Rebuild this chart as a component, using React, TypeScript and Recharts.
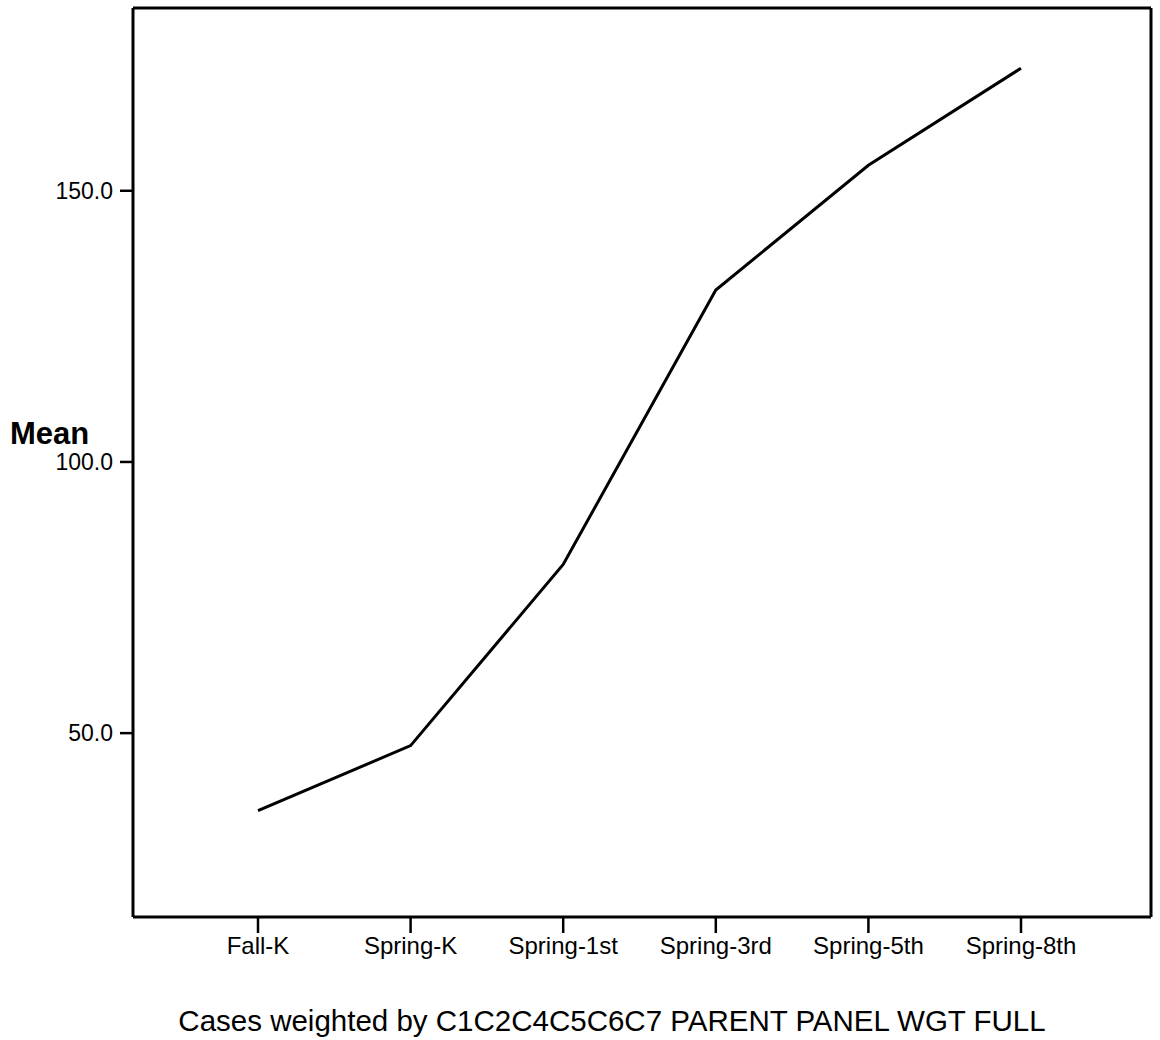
import { LineChart, Line, XAxis, YAxis } from 'recharts';

const waves = ['Fall-K', 'Spring-K', 'Spring-1st', 'Spring-3rd', 'Spring-5th', 'Spring-8th'];
const means = [35.7, 47.7, 81.1, 131.7, 154.7, 172.6];
const yTicks = [50, 100, 150];

const data = waves.map((wave, i) => ({ wave, mean: means[i] }));

const FONT = '"Liberation Sans", Arial, sans-serif';

const MeanLabel = () => (
  <text x={10} y={444} fontFamily={FONT} fontSize={31} fontWeight="bold" fill="#000">
    Mean
  </text>
);

const FooterLabel = () => (
  <text x={612} y={1031} textAnchor="middle" fontFamily={FONT} fontSize={29.5} fill="#000">
    Cases weighted by C1C2C4C5C6C7 PARENT PANEL WGT FULL
  </text>
);

export default function App() {
  const axisLine = { stroke: '#000', strokeWidth: 3 };
  const tickLine = { stroke: '#000', strokeWidth: 2.5 };
  return (
    <div style={{ position: 'absolute', left: 0, top: 0, width: 1160, height: 1040, background: '#fff' }}>
      <LineChart width={1160} height={1040} data={data} margin={{ top: 7, right: 8, bottom: 83, left: 73 }}>
        <XAxis
          dataKey="wave"
          padding={{ left: 125, right: 130 }}
          height={40}
          axisLine={axisLine}
          tickLine={tickLine}
          tickSize={16}
          tickMargin={4}
          tick={{ fill: '#000', fontSize: 24, fontFamily: FONT }}
          interval={0}
          label={<FooterLabel />}
        />
        <XAxis xAxisId="top" orientation="top" height={1} tick={false} tickLine={false} axisLine={axisLine} />
        <YAxis
          domain={[16.1, 183.7]}
          ticks={yTicks}
          tickFormatter={(v: number) => v.toFixed(1)}
          width={60}
          axisLine={axisLine}
          tickLine={tickLine}
          tickSize={13}
          tickMargin={7}
          tick={{ fill: '#000', fontSize: 23, fontFamily: FONT }}
          label={<MeanLabel />}
        />
        <YAxis yAxisId="right" orientation="right" width={1} tick={false} tickLine={false} axisLine={axisLine} />
        <Line
          dataKey="mean"
          type="linear"
          stroke="#000"
          strokeWidth={3}
          dot={false}
          isAnimationActive={false}
        />
      </LineChart>
    </div>
  );
}
